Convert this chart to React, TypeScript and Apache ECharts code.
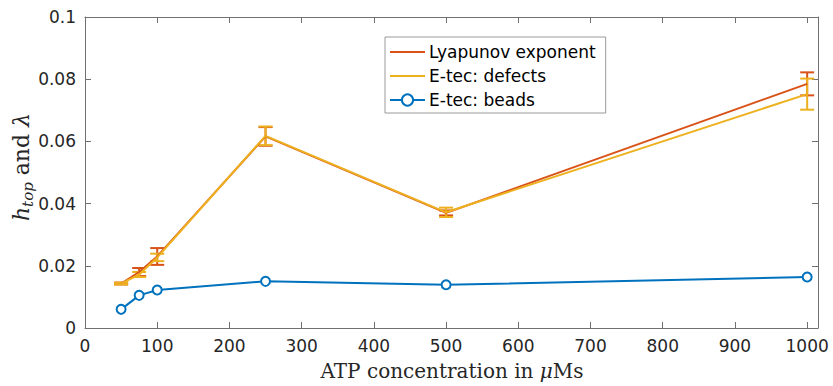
import React, { useEffect, useRef } from "react";
import * as echarts from "echarts";

const atp = [50, 75, 100, 250, 500, 1000];
const lyapunov = [0.0143, 0.018, 0.023, 0.0616, 0.037, 0.0785];
const lyapunovErr = [0.0003, 0.0013, 0.0027, 0.003, 0.0008, 0.0037];
const defects = [0.0143, 0.0172, 0.0227, 0.0618, 0.0372, 0.0752];
const defectsErr = [0.0003, 0.0008, 0.0012, 0.003, 0.0015, 0.005];
const beads = [0.006, 0.0105, 0.0122, 0.015, 0.0139, 0.0164];
const xTicks = [0, 100, 200, 300, 400, 500, 600, 700, 800, 900, 1000];
const yTicks = [0, 0.02, 0.04, 0.06, 0.08, 0.1];

const RED = "#D95319";
const YELLOW = "#EDB120";
const BLUE = "#0072BD";
const AXIS = "#707070";
const TEXT = "#262626";

function errSeries(name: string, ys: number[], es: number[], color: string) {
  return {
    type: "custom",
    name,
    clip: false,
    data: atp.map((x, i) => [x, ys[i] - es[i], ys[i] + es[i]]),
    encode: { x: 0, y: [1, 2] },
    renderItem: (params: any, api: any) => {
      const x = api.value(0);
      const lo = api.coord([x, api.value(1)]);
      const hi = api.coord([x, api.value(2)]);
      const w = 7;
      const st = { stroke: color, lineWidth: 2 };
      return {
        type: "group",
        children: [
          { type: "line", shape: { x1: hi[0], y1: hi[1], x2: lo[0], y2: lo[1] }, style: st },
          { type: "line", shape: { x1: hi[0] - w, y1: hi[1], x2: hi[0] + w, y2: hi[1] }, style: st },
          { type: "line", shape: { x1: lo[0] - w, y1: lo[1], x2: lo[0] + w, y2: lo[1] }, style: st },
        ],
      };
    },
  };
}

export default function App() {
  const ref = useRef<HTMLDivElement>(null);
  useEffect(() => {
    if (!ref.current) return;
    const chart = echarts.init(ref.current, undefined, { renderer: "svg" });
    const xAxisBase = {
      type: "value",
      min: xTicks[0],
      max: 1015,
      interval: 100,
      splitLine: { show: false },
      axisLine: { show: true, onZero: false, lineStyle: { color: AXIS, width: 1 } },
      axisTick: { show: true, inside: true, length: 6, lineStyle: { color: AXIS } },
    };
    const yAxisBase = {
      type: "value",
      min: yTicks[0],
      max: yTicks[yTicks.length - 1],
      interval: 0.02,
      splitLine: { show: false },
      axisLine: { show: true, onZero: false, lineStyle: { color: AXIS, width: 1 } },
      axisTick: { show: true, inside: true, length: 6, lineStyle: { color: AXIS } },
    };
    chart.setOption({
      animation: false,
      grid: { left: 85, right: 15, top: 17, bottom: 58, containLabel: false },
      xAxis: [
        {
          ...xAxisBase,
          position: "bottom",
          axisLabel: {
            color: TEXT,
            fontFamily: "DejaVu Sans",
            fontSize: 17,
            margin: 9,
            formatter: (v: number) => (xTicks.includes(v) ? String(v) : ""),
          },
        },
        { ...xAxisBase, position: "top", axisLabel: { show: false } },
      ],
      yAxis: [
        {
          ...yAxisBase,
          position: "left",
          axisLabel: {
            color: TEXT,
            fontFamily: "DejaVu Sans",
            fontSize: 17,
            margin: 9,
            formatter: (v: number) => String(+v.toFixed(2)),
          },
        },
        { ...yAxisBase, position: "right", axisLabel: { show: false } },
      ],
      legend: {
        data: [
          { name: "Lyapunov exponent", itemStyle: { opacity: 0 } },
          { name: "E-tec: defects", itemStyle: { opacity: 0 } },
          { name: "E-tec: beads" },
        ],
        orient: "vertical",
        left: 385,
        top: 37,
        padding: [6, 10, 4, 4],
        itemGap: 6,
        itemWidth: 35,
        itemHeight: 14,
        backgroundColor: "#fff",
        borderColor: "#9a9a9a",
        borderWidth: 1,
        borderRadius: 0,
        textStyle: { color: "#000", fontFamily: "DejaVu Sans", fontSize: 17, lineHeight: 18, padding: [0, 0, 0, -1] },
      },
      graphic: [
        {
          type: "text",
          x: 452,
          y: 371,
          style: {
            text: "ATP concentration in {i|μ}Ms",
            fontFamily: "DejaVu Serif",
            fontSize: 20,
            fill: TEXT,
            align: "center",
            verticalAlign: "middle",
            rich: { i: { fontFamily: "DejaVu Serif", fontStyle: "italic", fontSize: 20, fill: TEXT } },
          },
        },
        {
          type: "text",
          x: 21,
          y: 167,
          rotation: Math.PI / 2,
          style: {
            text: "{h|h}{s|top}{n| and }{l|λ}",
            fontFamily: "DejaVu Serif",
            fontSize: 22,
            fill: TEXT,
            align: "center",
            verticalAlign: "middle",
            rich: {
              h: { fontFamily: "DejaVu Serif", fontStyle: "italic", fontSize: 22, lineHeight: 28, fill: TEXT, verticalAlign: "middle" },
              s: { fontFamily: "DejaVu Serif", fontStyle: "italic", fontSize: 15, lineHeight: 28, fill: TEXT, verticalAlign: "bottom" },
              n: { fontFamily: "DejaVu Serif", fontSize: 22, lineHeight: 28, fill: TEXT, verticalAlign: "middle" },
              l: { fontFamily: "DejaVu Serif", fontStyle: "italic", fontSize: 22, lineHeight: 28, fill: TEXT, verticalAlign: "middle" },
            },
          },
        },
      ],
      series: [
        {
          type: "line",
          name: "Lyapunov exponent",
          data: atp.map((x, i) => [x, lyapunov[i]]),
          symbol: "none",
          lineStyle: { color: RED, width: 2 },
          itemStyle: { color: RED },
        },
        errSeries("lyapErr", lyapunov, lyapunovErr, RED),
        {
          type: "line",
          name: "E-tec: defects",
          data: atp.map((x, i) => [x, defects[i]]),
          symbol: "none",
          lineStyle: { color: YELLOW, width: 2 },
          itemStyle: { color: YELLOW },
        },
        errSeries("defErr", defects, defectsErr, YELLOW),
        {
          type: "line",
          name: "E-tec: beads",
          data: atp.map((x, i) => [x, beads[i]]),
          symbol: "emptyCircle",
          symbolSize: 9,
          lineStyle: { color: BLUE, width: 2 },
          itemStyle: { color: BLUE, borderColor: BLUE, borderWidth: 2 },
        },
      ],
    });
    return () => chart.dispose();
  }, []);
  return (
    <div
      ref={ref}
      style={{ position: "fixed", left: 0, top: 0, width: 833, height: 386, background: "#fff" }}
    />
  );
}
